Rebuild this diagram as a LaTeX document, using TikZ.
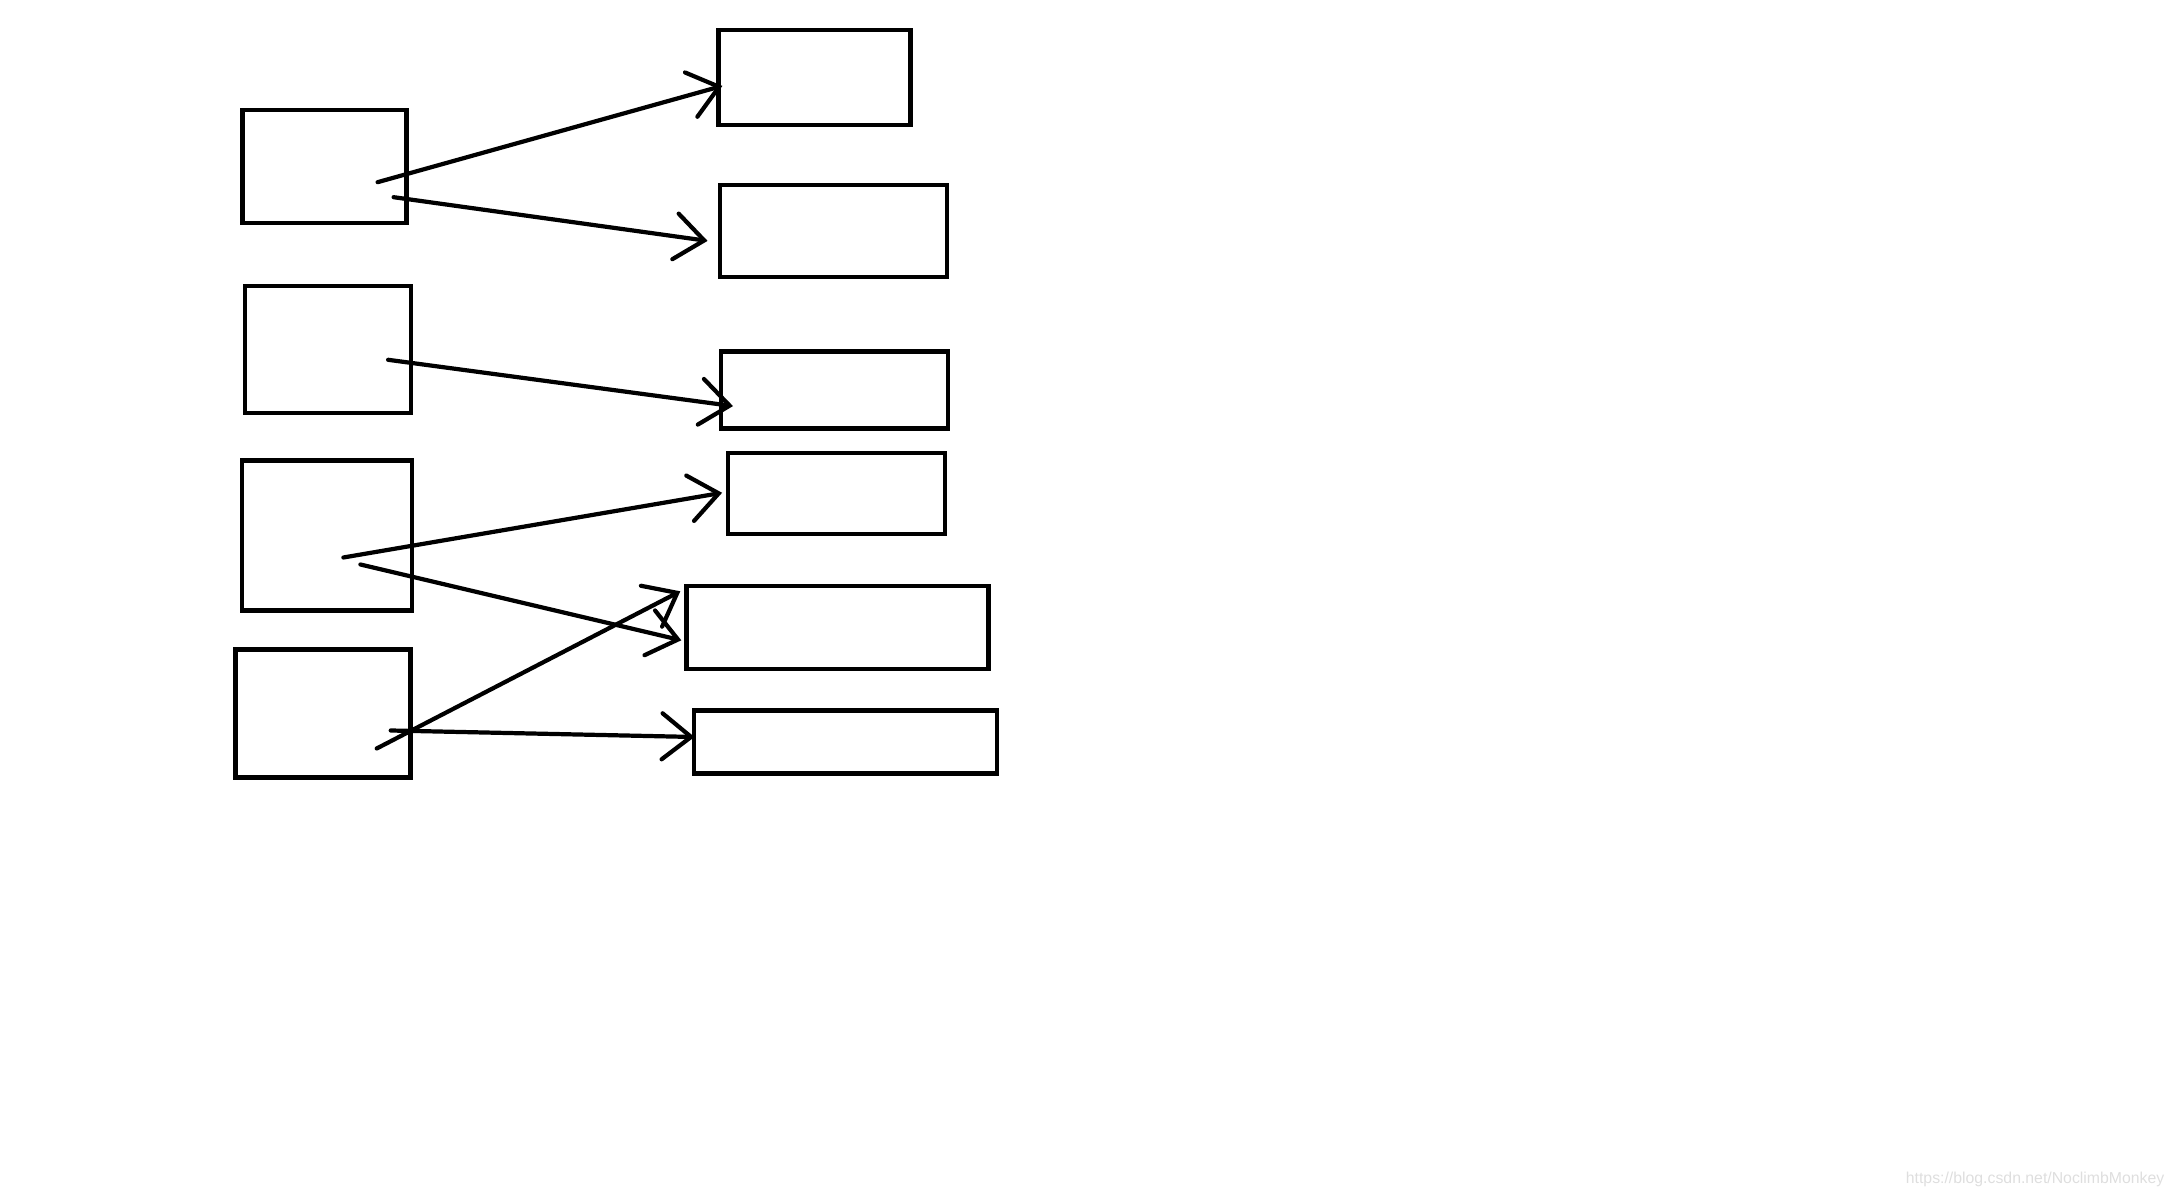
\documentclass[tikz,border=0pt]{standalone}
\usepackage{fontspec}
\newfontfamily\markfont{Liberation Sans}
\usetikzlibrary{arrows.meta,calc}

\begin{document}
\begin{tikzpicture}[auto]
\tikzstyle{box} = [rectangle, draw, line width=1.2pt, inner sep=0pt]
\tikzstyle{line} = [draw, line width=1.2pt, line cap=round,
-{Straight Barb[length=2.9mm,width=4.6mm,line cap=round]}]
\tikzstyle{watermark} = [anchor=base east, inner sep=0pt, text=black!13,
font=\markfont\fontsize{4.5}{5}\selectfont]

\useasboundingbox (0,0) rectangle (21.74,-11.96);

% left column
\node [box, minimum width=1.64cm, minimum height=1.13cm] (src1) at (3.245,-1.662) {};
\node [box, minimum width=1.66cm, minimum height=1.27cm] (src2) at (3.280,-3.498) {};
\node [box, minimum width=1.70cm, minimum height=1.50cm] (src3) at (3.273,-5.355) {};
\node [box, minimum width=1.75cm, minimum height=1.28cm] (src4) at (3.231,-7.135) {};
% right column
\node [box, minimum width=1.92cm, minimum height=0.95cm] (dst1) at (8.145,-0.779) {};
\node [box, minimum width=2.27cm, minimum height=0.92cm] (dst2) at (8.332,-2.309) {};
\node [box, minimum width=2.27cm, minimum height=0.77cm] (dst3) at (8.346,-3.901) {};
\node [box, minimum width=2.17cm, minimum height=0.81cm] (dst4) at (8.367,-4.938) {};
\node [box, minimum width=3.02cm, minimum height=0.83cm] (dst5) at (8.374,-6.273) {};
\node [box, minimum width=3.03cm, minimum height=0.63cm] (dst6) at (8.451,-7.420) {};

\node [watermark] (mark) at (21.65,-11.83) {https://blog.csdn.net/NoclimbMonkey};

\tikzstyle{every path}=[line]
\path ($(src1.east)+(-0.31,-0.16)$) -- ($(dst1.west)+(0.06,-0.08)$);
\path ($(src1.east)+(-0.15,-0.31)$) -- ($(dst2.west)+(-0.10,-0.10)$);
\path ($(src2.east)+(-0.25,-0.10)$) -- ($(dst3.west)+(0.14,-0.16)$);
\path ($(src3.east)+(-0.71,-0.22)$) -- ($(dst4.west)+(-0.04,0.01)$);
\path ($(src3.east)+(-0.54,-0.29)$) -- ($(dst5.west)+(-0.03,-0.13)$);
\path ($(src4.east)+(-0.36,-0.35)$) -- ($(dst5.west)+(-0.04,0.36)$);
\path ($(src4.east)+(-0.22,-0.17)$) -- ($(dst6.west)+(0.03,0.05)$);

\end{tikzpicture}
\end{document}
